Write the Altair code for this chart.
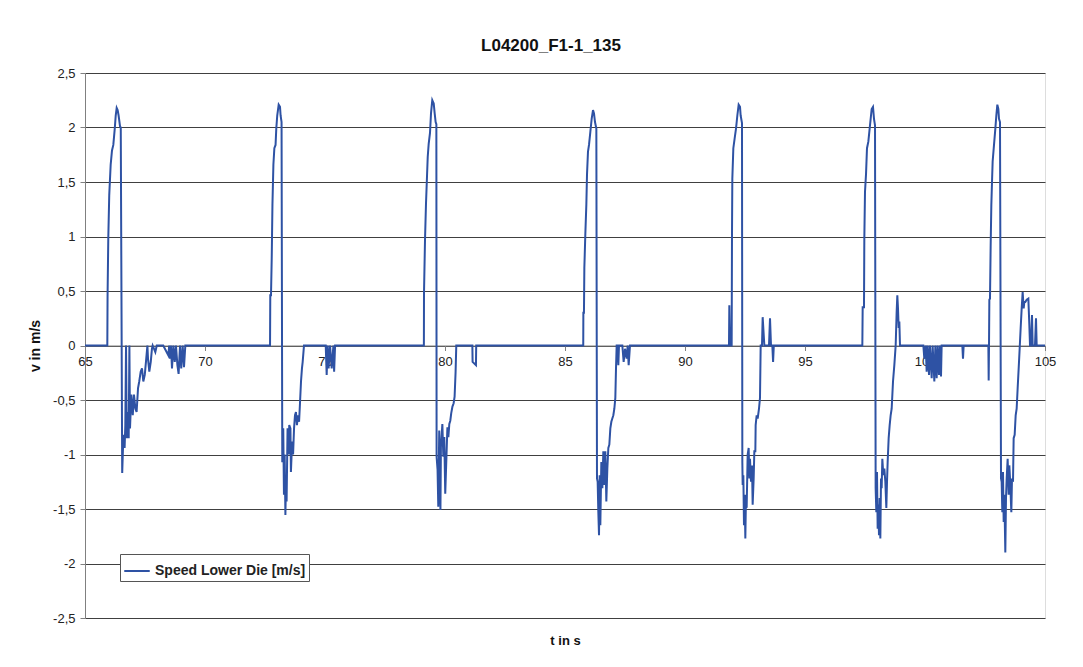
import altair as alt
import pandas as pd

# ---- data (time in s, speed in m/s) ----
c1_t = [65.0, 65.93, 65.94, 65.97, 66.01, 66.07, 66.125, 66.18, 66.24, 66.28, 66.32, 66.36, 66.40, 66.46, 66.49,
        66.55, 66.60, 66.65, 66.68, 66.71, 66.74, 66.79, 66.82, 66.85, 66.875, 66.93, 66.99, 67.04, 67.10, 67.15,
        67.21, 67.26, 67.32, 67.375, 67.43, 67.49, 67.54, 67.60, 67.625, 67.68, 67.74, 67.79, 67.82, 67.93, 67.99,
        68.26, 68.47, 68.51, 68.54, 68.58, 68.625, 68.68, 68.74, 68.79, 68.85, 68.90, 68.96, 69.01, 69.07, 69.125,
        69.18]
c1_v = [0, 0, 0.45, 0.98, 1.38, 1.66, 1.79, 1.84, 1.99, 2.11, 2.18, 2.16, 2.11, 2.01, 2.0,
        -1.17, -0.82, -0.94, -0.73, 0, -0.85, -0.61, -0.85, 0, -0.76, -0.45, -0.64, -0.45, -0.58, -0.61,
        -0.39, -0.33, -0.24, -0.21, -0.33, -0.27, -0.15, 0, -0.12, -0.24, -0.15, -0.03, 0, -0.06, 0,
        0, -0.09, 0, -0.12, 0, -0.21, 0, -0.15, 0, -0.18, -0.26, 0, -0.21, 0, -0.20,
        0]

c2_t = [72.71, 72.72, 72.75, 72.78, 72.81, 72.85, 72.89, 72.94, 72.97, 73.01, 73.07, 73.125, 73.15, 73.19,
        73.22, 73.26, 73.29, 73.32, 73.35, 73.375, 73.40, 73.44, 73.49, 73.51, 73.56, 73.58, 73.63, 73.67,
        73.71, 73.75, 73.79, 73.83, 73.875, 73.92, 73.96, 74.0, 74.04, 74.07, 74.125,
        75.03, 75.07, 75.11, 75.15, 75.21, 75.28, 75.35, 75.38, 75.42]
c2_v = [0, 0.46, 0.46, 0.80, 1.29, 1.66, 1.81, 1.84, 1.99, 2.11, 2.21, 2.19, 2.11, 2.05,
        -1.07, -0.76, -1.37, -1.0, -1.555, -1.22, -1.43, -0.76, -1.0, -0.73, -0.76, -1.16, -0.88, -1.0,
        -0.76, -0.64, -0.61, -0.73, -0.64, -0.70, -0.52, -0.33, -0.21, -0.15, 0,
        0, -0.27, 0, -0.21, 0, -0.21, 0, -0.24, 0]

c3_t = [79.12, 79.125, 79.167, 79.208, 79.25, 79.28, 79.32, 79.375, 79.417, 79.47, 79.53, 79.57, 79.61, 79.64,
        79.65, 79.69, 79.72, 79.76, 79.81, 79.83, 79.89, 79.93, 79.97, 80.01, 80.06, 80.10, 80.14, 80.18,
        80.22, 80.26, 80.31, 80.36, 80.40, 80.44, 80.47, 81.14, 81.15, 81.29, 81.30]
c3_v = [0, 0.48, 0.97, 1.30, 1.55, 1.73, 1.85, 1.95, 2.13, 2.25, 2.22, 2.13, 2.05, 2.03,
        -1.02, -1.14, -1.48, -0.78, -1.51, -0.93, -0.72, -1.02, -0.84, -1.36, -1.02, -0.75, -0.84, -0.72,
        -0.69, -0.62, -0.56, -0.53, -0.47, -0.25, 0, 0, -0.15, -0.18, 0]

c4_t = [85.76, 85.765, 85.79, 85.806, 85.847, 85.889, 85.917, 85.958, 86.0, 86.056, 86.111, 86.167, 86.208,
        86.25, 86.306, 86.333, 86.361, 86.389, 86.417, 86.444, 86.472, 86.514, 86.556, 86.597, 86.639, 86.681,
        86.722, 86.764, 86.806, 86.847, 86.889, 86.931, 86.972, 87.014, 87.056, 87.097, 87.125, 87.153,
        87.194, 87.222, 87.25, 87.389, 87.444, 87.5, 87.569, 87.611, 87.653, 87.708]
c4_v = [0, 0.30, 0.30, 0.71, 1.02, 1.29, 1.57, 1.78, 1.84, 1.96, 2.08, 2.16, 2.13,
        2.05, 1.99, -1.22, -1.25, -1.53, -1.74, -1.19, -1.65, -1.07, -1.31, -0.97, -1.28, -0.97,
        -1.43, -1.13, -0.94, -0.91, -0.76, -0.70, -0.67, -0.64, -0.58, -0.48, -0.21, 0,
        0, -0.18, 0, 0, -0.15, -0.03, -0.12, 0, -0.18, 0]

c5_t = [91.833, 91.847, 91.875, 91.944, 91.958, 91.972, 92.014, 92.069, 92.125, 92.181, 92.236, 92.292,
        92.319, 92.375, 92.389, 92.403, 92.431, 92.458, 92.486, 92.514, 92.542, 92.569, 92.611, 92.653,
        92.681, 92.708, 92.75, 92.792, 92.819, 92.861, 92.889, 92.931, 92.944, 92.986, 93.028, 93.083,
        93.125, 93.153, 93.208, 93.236, 93.306, 93.5, 93.542, 93.583, 93.639, 93.67, 93.70]
c5_v = [0, 0.37, 0, 0, 1.01, 1.53, 1.81, 1.90, 1.99, 2.11, 2.21, 2.19,
        2.11, 2.04, -1.07, -1.28, -1.19, -1.65, -1.37, -1.77, -1.37, -1.49, -1.0, -0.94,
        -1.22, -1.04, -1.25, -1.10, -1.46, -1.22, -0.97, -0.97, -0.73, -0.64, -0.67, -0.58,
        -0.48, 0, 0, 0.26, 0, 0, 0.25, 0, 0, -0.15, 0]

c6_t = [97.389, 97.403, 97.458, 97.472, 97.5, 97.542, 97.583, 97.639, 97.694, 97.736, 97.778, 97.833, 97.875,
        97.917, 97.944, 97.972, 98.0, 98.028, 98.056, 98.083, 98.111, 98.139, 98.167, 98.194, 98.222, 98.264,
        98.306, 98.347, 98.389, 98.417, 98.444, 98.486, 98.528, 98.569, 98.611, 98.667, 98.722, 98.778,
        98.819, 98.847, 98.875, 98.903, 98.931, 98.958, 99.931, 99.972, 100.028, 100.069, 100.111, 100.167,
        100.208, 100.278, 100.319, 100.389, 100.431, 100.486, 100.528, 100.583, 100.625, 100.667, 100.694,
        101.556, 101.583, 101.611]
c6_v = [0, 0.35, 0.35, 0.98, 1.41, 1.57, 1.81, 1.87, 1.99, 2.08, 2.17, 2.19, 2.08,
        2.02, -1.31, -1.53, -1.16, -1.68, -1.46, -1.74, -1.40, -1.77, -1.22, -1.31, -1.04, -1.19,
        -1.13, -1.25, -1.49, -1.25, -1.07, -0.85, -0.73, -0.64, -0.58, -0.33, -0.18, 0,
        0.31, 0.46, 0.34, 0.16, 0.22, 0, 0, -0.12, 0, -0.24, 0, -0.27,
        0, -0.30, 0, -0.33, 0, -0.30, 0, -0.27, 0, -0.285, 0,
        0, -0.12, 0]

c7_t = [102.64, 102.653, 102.667, 102.681, 102.708, 102.736, 102.764, 102.792, 102.819, 102.875, 102.931,
        102.972, 103.014, 103.056, 103.083, 103.125, 103.167, 103.194, 103.222, 103.25, 103.278, 103.306,
        103.347, 103.375, 103.403, 103.444, 103.486, 103.514, 103.556, 103.597, 103.625, 103.667, 103.694,
        103.736, 103.778, 103.819, 103.861, 103.903, 103.944, 103.986, 104.028, 104.069, 104.111, 104.139,
        104.181, 104.236, 104.306, 104.347, 104.375, 104.417, 104.458, 104.486, 104.583, 104.625, 104.653,
        105.0]
c7_v = [0, -0.32, 0, 0.42, 0.43, 0.92, 1.29, 1.50, 1.69, 1.84, 1.99,
        2.11, 2.21, 2.17, 2.08, 2.05, -1.22, -1.25, -1.53, -1.16, -1.62, -1.37,
        -1.90, -1.40, -1.22, -1.04, -1.37, -1.10, -1.28, -1.53, -1.22, -1.25, -0.85,
        -0.82, -0.64, -0.58, -0.39, -0.21, -0.03, 0.16, 0.34, 0.49, 0.34, 0.40,
        0.40, 0.42, 0.43, 0.19, 0, 0, 0.28, 0, 0, 0.25, 0,
        0]

series_name = "Speed Lower Die [m/s]"
chart_title = "L04200_F1-1_135"
x_ticks = [65, 70, 75, 80, 85, 90, 95, 100, 105]
y_ticks = [-2.5, -2, -1.5, -1, -0.5, 0, 0.5, 1, 1.5, 2, 2.5]

t_all = c1_t + c2_t + c3_t + c4_t + c5_t + c6_t + c7_t
v_all = c1_v + c2_v + c3_v + c4_v + c5_v + c6_v + c7_v
df = pd.DataFrame({"t": t_all, "v": v_all})
df["i"] = range(len(df))
df["series"] = series_name

FONT = "Liberation Sans"

chart = alt.Chart(df).mark_line(strokeWidth=2, clip=True).encode(
    x=alt.X(
        "t:Q",
        scale=alt.Scale(domain=[65, 105], nice=False, zero=False),
        axis=alt.Axis(
            values=x_ticks, title="t in s", offset=-272.5, grid=False,
            domainColor="#808080", tickColor="#808080", tickSize=5,
            labelPadding=5, labelFontSize=13, labelColor="#222222", labelFont=FONT,
            labelFlush=False,
            titleFontSize=13, titleFontWeight="bold", titleFont=FONT, titleColor="#111111",
            titleY=295, titleBaseline="middle",
        ),
    ),
    y=alt.Y(
        "v:Q",
        scale=alt.Scale(domain=[-2.5, 2.5], nice=False),
        axis=alt.Axis(
            values=y_ticks, title="v in m/s",
            labelExpr="replace(toString(datum.value), '.', ',')",
            grid=True, gridColor="#404040", gridWidth=1, gridOpacity=1,
            domainColor="#808080", tickColor="#808080", tickSize=5,
            labelPadding=5, labelFontSize=13, labelColor="#222222", labelFont=FONT,
            titleFontSize=14, titleFontWeight="bold", titleFont=FONT, titleColor="#111111",
            titleX=-50, titleBaseline="middle",
        ),
    ),
    color=alt.Color(
        "series:N",
        scale=alt.Scale(range=["#2E52A4"]),
        legend=alt.Legend(
            title=None, orient="none", legendX=35, legendY=481,
            strokeColor="#555555", fillColor="white", padding=3,
            symbolType="stroke", symbolStrokeWidth=2, symbolSize=650,
            labelFontWeight="bold", labelFontSize=14, labelFont=FONT, labelColor="#222222",
        ),
    ),
    order="i:Q",
).properties(
    width=960,
    height=545,
    title=alt.TitleParams(chart_title, fontSize=17, fontWeight="bold", font=FONT,
                          color="#111111", frame="group", dx=-14, offset=12),
    padding={"left": 77, "top": 65, "right": 30, "bottom": 40},
    autosize=alt.AutoSizeParams(type="none"),
).configure_view(
    stroke="#808080", strokeWidth=1
).configure(background="white")

chart.save("out.html", embed_options={"renderer": "svg", "actions": False})
